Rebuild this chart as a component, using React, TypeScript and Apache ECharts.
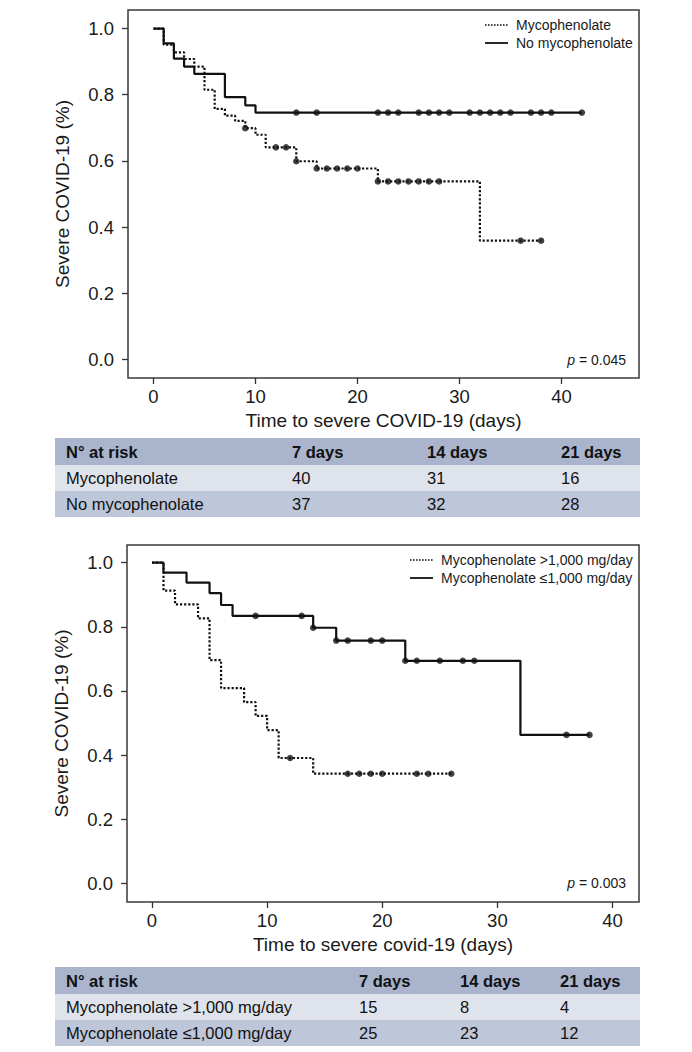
import React, { useEffect, useRef } from "react";
import * as echarts from "echarts";

const FONT = "'Liberation Sans', Arial, Helvetica, sans-serif";

// ---------- Top chart data ----------
const topXTicks = [0, 10, 20, 30, 40];
const yTicks = [0, 0.2, 0.4, 0.6, 0.8, 1.0];

const mycoTimes = [0, 1, 2, 3, 4, 5, 6, 7, 8, 9, 10, 11, 14, 16, 22, 32, 38];
const mycoSurv = [1.0, 0.951, 0.928, 0.908, 0.885, 0.815, 0.757, 0.737, 0.721, 0.699, 0.679, 0.641, 0.599, 0.577, 0.538, 0.359, 0.359];
const mycoCensor = [9, 12, 13, 14, 16, 17, 18, 19, 20, 22, 23, 24, 25, 26, 27, 28, 36, 38];

const noMycoTimes = [0, 1, 2, 3, 4, 7, 9, 10, 42];
const noMycoSurv = [1.0, 0.955, 0.909, 0.885, 0.863, 0.793, 0.768, 0.746, 0.746];
const noMycoCensor = [14, 16, 22, 23, 24, 26, 27, 28, 29, 31, 32, 33, 34, 35, 37, 38, 39, 42];

// ---------- Bottom chart data ----------
const bottomXTicks = [0, 10, 20, 30, 40];

const highTimes = [0, 1, 2, 4, 5, 6, 8, 9, 10, 11, 14, 26];
const highSurv = [1.0, 0.913, 0.87, 0.826, 0.696, 0.609, 0.565, 0.522, 0.478, 0.391, 0.342, 0.342];
const highCensor = [12, 17, 18, 19, 20, 23, 24, 26];

const lowTimes = [0, 1, 3, 5, 6, 7, 14, 16, 22, 32, 38];
const lowSurv = [1.0, 0.969, 0.938, 0.905, 0.868, 0.834, 0.797, 0.757, 0.694, 0.463, 0.463];
const lowCensor = [9, 13, 14, 16, 17, 19, 20, 22, 23, 25, 27, 28, 36, 38];

// ---------- Risk tables ----------
const riskHeader = "N° at risk";
const riskDays = ["7 days", "14 days", "21 days"];
const risk1Groups = ["Mycophenolate", "No mycophenolate"];
const risk1Values = [
  [40, 31, 16],
  [37, 32, 28],
];
const risk2Groups = ["Mycophenolate >1,000 mg/day", "Mycophenolate ≤1,000 mg/day"];
const risk2Values = [
  [15, 8, 4],
  [25, 23, 12],
];

const topLegend = ["Mycophenolate", "No mycophenolate"];
const bottomLegend = ["Mycophenolate >1,000 mg/day", "Mycophenolate ≤1,000 mg/day"];
const topP = "0.045";
const bottomP = "0.003";
const xTitleTop = "Time to severe COVID-19 (days)";
const xTitleBottom = "Time to severe covid-19 (days)";
const yTitle = "Severe COVID-19 (%)";

const INK = "#111111";
const DOT: number[] = [2.2, 1.9];

function survAt(times: number[], surv: number[], t: number) {
  let s = surv[0];
  for (let i = 0; i < times.length; i++) if (times[i] <= t) s = surv[i];
  return s;
}

function kmLine(times: number[], surv: number[], idx: number, dotted: boolean) {
  return {
    type: "line",
    xAxisIndex: idx,
    yAxisIndex: idx,
    step: "end",
    symbol: "none",
    showSymbol: false,
    data: times.map((t, i) => [t, surv[i]]),
    lineStyle: { color: INK, width: 2.2, type: dotted ? DOT : "solid" },
    z: 3,
    silent: true,
  };
}

function censorSeries(c: number[], times: number[], surv: number[], idx: number) {
  return {
    type: "scatter",
    xAxisIndex: idx,
    yAxisIndex: idx,
    symbol: "circle",
    symbolSize: 6.5,
    itemStyle: { color: INK },
    data: c.map((t) => [t, survAt(times, surv, t)]),
    z: 4,
    silent: true,
  };
}

function xAxisDef(idx: number, min: number, max: number, ticks: number[], name: string) {
  return {
    type: "value",
    gridIndex: idx,
    position: "bottom",
    min,
    max,
    axisLine: { show: false, onZero: false },
    splitLine: { show: false },
    axisTick: { show: true, inside: false, length: 6, customValues: ticks, lineStyle: { color: "#333", width: 1.3 } },
    axisLabel: { customValues: ticks, fontSize: 18.5, color: "#1a1a1a", margin: 9, fontFamily: FONT },
    name,
    nameLocation: "middle",
    nameGap: 33,
    nameTextStyle: { fontSize: 19, color: "#1a1a1a", fontFamily: FONT },
  };
}

function yAxisDef(idx: number, min: number, max: number) {
  return {
    type: "value",
    gridIndex: idx,
    position: "left",
    min,
    max,
    axisLine: { show: false, onZero: false },
    splitLine: { show: false },
    axisTick: { show: true, inside: false, length: 6, customValues: yTicks, lineStyle: { color: "#333", width: 1.3 } },
    axisLabel: {
      customValues: yTicks,
      fontSize: 18.5,
      color: "#1a1a1a",
      margin: 14,
      fontFamily: FONT,
      formatter: (v: number) => v.toFixed(1),
    },
    name: yTitle,
    nameLocation: "middle",
    nameGap: 56,
    nameRotate: 90,
    nameTextStyle: { fontSize: 19, color: "#1a1a1a", fontFamily: FONT },
  };
}

function legendGraphics(labels: string[], x1: number, x2: number, tx: number, ys: number[]) {
  const out: any[] = [];
  labels.forEach((lab, i) => {
    out.push({
      type: "line",
      shape: { x1, y1: ys[i], x2, y2: ys[i] },
      style: { stroke: INK, lineWidth: i === 0 ? 1.6 : 1.8, lineDash: i === 0 ? [1.6, 1.4] : null },
    });
    out.push({
      type: "text",
      x: tx,
      y: ys[i],
      style: { text: lab, fontSize: 14, fontFamily: FONT, fill: "#1a1a1a", align: "left", verticalAlign: "middle" },
    });
  });
  return out;
}

function pGraphic(val: string, x: number, y: number) {
  return {
    type: "text",
    x,
    y,
    style: {
      text: "{i|p} = " + val,
      fontSize: 14,
      fontFamily: FONT,
      fill: "#1a1a1a",
      align: "right",
      verticalAlign: "middle",
      rich: { i: { fontStyle: "italic", fontSize: 14, fontFamily: FONT, fill: "#1a1a1a" } },
    },
  };
}

function tableGraphics(
  left: number,
  right: number,
  rowsY: number[],
  cols: number[],
  groups: string[],
  values: number[][]
) {
  const out: any[] = [];
  const fills = ["#aab4cd", "#dfe3ec", "#bec6da"];
  for (let r = 0; r < 3; r++) {
    out.push({
      type: "rect",
      shape: { x: left, y: rowsY[r], width: right - left, height: rowsY[r + 1] - rowsY[r] },
      style: { fill: fills[r] },
    });
  }
  const tx = left + 11;
  const rowText = (r: number, texts: string[], bold: boolean) => {
    const cy = (rowsY[r] + rowsY[r + 1]) / 2;
    texts.forEach((t, i) => {
      out.push({
        type: "text",
        x: i === 0 ? tx : cols[i - 1],
        y: cy,
        style: {
          text: t,
          fontSize: 16.5,
          fontWeight: bold ? "bold" : "normal",
          fontFamily: FONT,
          fill: "#111",
          align: "left",
          verticalAlign: "middle",
        },
      });
    });
  };
  rowText(0, [riskHeader, ...riskDays], true);
  groups.forEach((g, i) => rowText(i + 1, [g, ...values[i].map(String)], false));
  return out;
}

export default function App() {
  const ref = useRef<HTMLDivElement>(null);
  useEffect(() => {
    if (!ref.current) return;
    const chart = echarts.init(ref.current, null, { renderer: "svg", width: 692, height: 1052 });
    const option: any = {
      animation: false,
      backgroundColor: "#ffffff",
      grid: [
        { left: 128, top: 10, width: 511, height: 368, show: true, borderColor: "#3a3a3a", borderWidth: 1.5, backgroundColor: "transparent" },
        { left: 127, top: 545, width: 512, height: 357, show: true, borderColor: "#3a3a3a", borderWidth: 1.5, backgroundColor: "transparent" },
      ],
      xAxis: [
        xAxisDef(0, -2.5, 47.6, topXTicks, xTitleTop),
        xAxisDef(1, -2.17, 42.3, bottomXTicks, xTitleBottom),
      ],
      yAxis: [yAxisDef(0, -0.056, 1.056), yAxisDef(1, -0.058, 1.055)],
      series: [
        kmLine(noMycoTimes, noMycoSurv, 0, false),
        kmLine(mycoTimes, mycoSurv, 0, true),
        censorSeries(noMycoCensor, noMycoTimes, noMycoSurv, 0),
        censorSeries(mycoCensor, mycoTimes, mycoSurv, 0),
        kmLine(lowTimes, lowSurv, 1, false),
        kmLine(highTimes, highSurv, 1, true),
        censorSeries(lowCensor, lowTimes, lowSurv, 1),
        censorSeries(highCensor, highTimes, highSurv, 1),
      ],
      graphic: [
        ...legendGraphics(topLegend, 485, 508, 516, [25, 43]),
        ...legendGraphics(bottomLegend, 410, 433, 441, [560, 578]),
        pGraphic(topP, 626, 360),
        pGraphic(bottomP, 626, 883),
        ...tableGraphics(55, 640, [438, 465, 491, 517], [292, 427, 561], risk1Groups, risk1Values),
        ...tableGraphics(55, 640, [967, 994, 1020, 1046], [359, 460, 560], risk2Groups, risk2Values),
      ],
    };
    chart.setOption(option);
    return () => chart.dispose();
  }, []);
  return (
    <div
      ref={ref}
      style={{ position: "absolute", left: 0, top: 0, width: 692, height: 1052, background: "#fff" }}
    />
  );
}
